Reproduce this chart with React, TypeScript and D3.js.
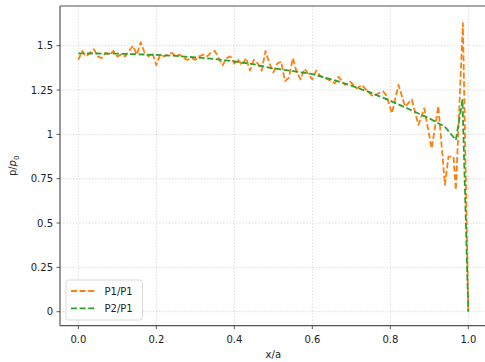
import React from "react";
import * as d3 from "d3";

const xP1 = [0, 0.01, 0.02, 0.03, 0.04, 0.05, 0.06, 0.07, 0.08, 0.09, 0.1, 0.11, 0.12, 0.13, 0.14, 0.15, 0.16, 0.17, 0.18, 0.19, 0.2, 0.21, 0.22, 0.23, 0.24, 0.25, 0.26, 0.27, 0.28, 0.29, 0.3, 0.31, 0.32, 0.33, 0.34, 0.35, 0.36, 0.37, 0.38, 0.39, 0.4, 0.41, 0.42, 0.43, 0.44, 0.45, 0.46, 0.47, 0.48, 0.49, 0.5, 0.51, 0.52, 0.53, 0.54, 0.55, 0.56, 0.57, 0.58, 0.59, 0.6, 0.61, 0.62, 0.63, 0.64, 0.658, 0.667, 0.684, 0.697, 0.714, 0.727, 0.739, 0.756, 0.769, 0.782, 0.79, 0.804, 0.821, 0.838, 0.855, 0.872, 0.887, 0.906, 0.923, 0.94, 0.949, 0.962, 0.968, 0.986, 1.0];
const yP1 = [1.42, 1.47, 1.44, 1.46, 1.48, 1.44, 1.43, 1.46, 1.45, 1.47, 1.44, 1.45, 1.44, 1.47, 1.5, 1.45, 1.52, 1.46, 1.44, 1.46, 1.39, 1.45, 1.44, 1.45, 1.46, 1.44, 1.45, 1.43, 1.42, 1.43, 1.42, 1.44, 1.45, 1.44, 1.46, 1.47, 1.43, 1.39, 1.43, 1.44, 1.4, 1.42, 1.39, 1.43, 1.36, 1.42, 1.4, 1.36, 1.47, 1.4, 1.35, 1.4, 1.41, 1.3, 1.32, 1.43, 1.35, 1.31, 1.37, 1.34, 1.31, 1.36, 1.33, 1.32, 1.31, 1.288, 1.325, 1.279, 1.297, 1.26, 1.279, 1.25, 1.213, 1.232, 1.241, 1.22, 1.119, 1.279, 1.156, 1.197, 1.053, 1.147, 0.921, 1.16, 0.715, 0.874, 0.874, 0.686, 1.627, 0];

const xP2 = [0, 0.05, 0.1, 0.15, 0.2, 0.25, 0.3, 0.35, 0.4, 0.45, 0.5, 0.55, 0.6, 0.65, 0.7, 0.75, 0.8, 0.85, 0.9, 0.94, 0.968, 0.985, 1.0];
const yP2 = [1.457, 1.456, 1.455, 1.452, 1.448, 1.443, 1.434, 1.425, 1.412, 1.395, 1.372, 1.357, 1.34, 1.31, 1.275, 1.235, 1.19, 1.14, 1.09, 1.043, 0.969, 1.194, 0];

const xTicks = [0, 0.2, 0.4, 0.6, 0.8, 1.0];
const xTickLabels = ["0.0", "0.2", "0.4", "0.6", "0.8", "1.0"];
const yTicks = [0, 0.25, 0.5, 0.75, 1, 1.25, 1.5];
const yTickLabels = ["0", "0.25", "0.5", "0.75", "1", "1.25", "1.5"];
const seriesNames = ["P1/P1", "P2/P1"];
const seriesColors = ["#ff7f0e", "#2ca02c"];

export default function App() {
  const W = 485, H = 362;
  const left = 60, top = 6, bottom = 325.7;
  const x = d3.scaleLinear().domain([-0.047, 1.047]).range([left, left + 390 * 1.094]);
  const y = d3.scaleLinear().domain([-0.079, 1.724]).range([bottom, top]);
  const right = x(1.047);
  const line = d3.line<[number, number]>().x(d => x(d[0])).y(d => y(d[1]));
  const d1 = line(xP1.map((v, i) => [v, yP1[i]]))!;
  const d2 = line(xP2.map((v, i) => [v, yP2[i]]))!;
  const font = "DejaVu Sans, sans-serif";
  return (
    <svg width={W} height={H} style={{ position: "absolute", left: 0, top: 0, background: "#fff" }} fontFamily={font}>
      <defs>
        <clipPath id="plotclip">
          <rect x={left} y={top} width={right - left} height={bottom - top} />
        </clipPath>
      </defs>
      <rect x={0} y={0} width={W} height={H} fill="#fff" />
      {xTicks.map(t => (
        <line key={"gx" + t} x1={x(t)} x2={x(t)} y1={top} y2={bottom} stroke="#c8c8c8" strokeWidth={0.8} strokeDasharray="1.2,2" />
      ))}
      {yTicks.map(t => (
        <line key={"gy" + t} x1={left} x2={right} y1={y(t)} y2={y(t)} stroke="#c8c8c8" strokeWidth={0.8} strokeDasharray="1.2,2" />
      ))}
      <g clipPath="url(#plotclip)">
        <path d={d1} fill="none" stroke={seriesColors[0]} strokeWidth={1.8} strokeDasharray="6,2.6" strokeLinejoin="round" />
        <path d={d2} fill="none" stroke={seriesColors[1]} strokeWidth={1.8} strokeDasharray="6,2.6" strokeLinejoin="round" />
      </g>
      <line x1={left} x2={left} y1={top} y2={bottom} stroke="#555" strokeWidth={1.2} />
      <line x1={left} x2={right} y1={bottom} y2={bottom} stroke="#555" strokeWidth={1.2} />
      <line x1={left} x2={right} y1={top} y2={top} stroke="#555" strokeWidth={1.2} />
      {xTicks.map((t, i) => (
        <g key={"xt" + t}>
          <line x1={x(t)} x2={x(t)} y1={bottom} y2={bottom + 3.5} stroke="#333" strokeWidth={0.8} />
          <text x={x(t)} y={bottom + 17.5} textAnchor="middle" fontSize={10} fill="#222">{xTickLabels[i]}</text>
        </g>
      ))}
      {yTicks.map((t, i) => (
        <g key={"yt" + t}>
          <line x1={left - 3.5} x2={left} y1={y(t)} y2={y(t)} stroke="#333" strokeWidth={0.8} />
          <text x={left - 7} y={y(t) + 3.6} textAnchor="end" fontSize={10} fill="#222">{yTickLabels[i]}</text>
        </g>
      ))}
      <text x={(left + right) / 2} y={358} textAnchor="middle" fontSize={10} fill="#222">x/a</text>
      <text transform={`translate(16, ${(top + bottom) / 2}) rotate(-90)`} textAnchor="middle" fontSize={10} fill="#222">
        p/<tspan fontStyle="italic">p</tspan><tspan fontSize={7} dy={2.5}>0</tspan>
      </text>
      <g>
        <rect x={66} y={280} width={76.5} height={40} rx={2.5} fill="#fff" fillOpacity={0.8} stroke="#d0d0d0" strokeWidth={0.8} />
        {seriesNames.map((n, i) => (
          <g key={n}>
            <line x1={71} x2={95} y1={291 + i * 17.3} y2={291 + i * 17.3} stroke={seriesColors[i]} strokeWidth={1.8} strokeDasharray="6,2.6" />
            <text x={104.5} y={294.6 + i * 17.3} fontSize={10} fill="#222">{n}</text>
          </g>
        ))}
      </g>
    </svg>
  );
}
